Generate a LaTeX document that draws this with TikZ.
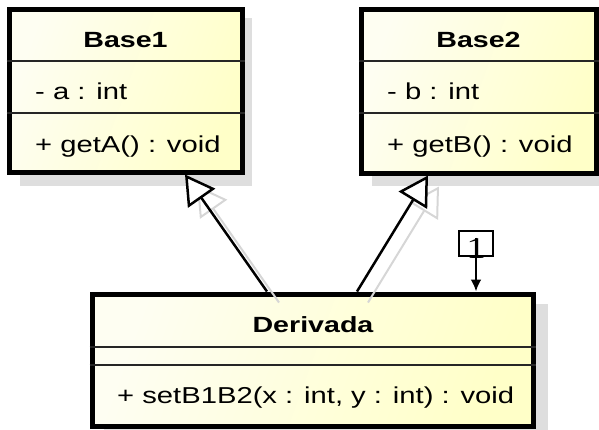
\documentclass[tikz,border=0pt]{standalone}
\usepackage{fontspec}
\setmainfont{Liberation Sans}
\newfontfamily\serifone{Liberation Serif}
\usetikzlibrary{arrows.meta,calc}
\definecolor{creamA}{RGB}{254,254,242}
\definecolor{creamC}{RGB}{255,255,200}
\definecolor{shadowgray}{RGB}{222,222,222}
\definecolor{arrowshadow}{RGB}{214,214,214}
\newcommand{\hsc}[1]{\scalebox{1.3}[1]{#1}}
\newcommand{\hsb}[1]{\scalebox{1.27}[1]{#1}}
\begin{document}
\begin{tikzpicture}[x=1pt,y=-1pt,
  umlbox/.style={rectangle, draw=black, line width=5pt, inner sep=0pt,
    left color=creamA, right color=creamC, shading angle=70},
  sepline/.style={draw=black!85, line width=2pt},
  titletext/.style={font=\fontsize{22}{26}\selectfont\bfseries, inner sep=0pt, anchor=base},
  bodytext/.style={font=\fontsize{23}{27}\selectfont, inner sep=0pt, anchor=base west},
  inherit/.style={draw=black, line width=2.5pt,
    -{Triangle[open, length=29pt, width=33pt, fill=white, line join=miter]}},
  inheritshadow/.style={draw=arrowshadow, line width=2pt,
    -{Triangle[open, length=29pt, width=33pt, fill=none]}},
  labelbox/.style={rectangle, draw=black, line width=2pt, inner sep=0pt},
  navarrow/.style={draw=black, line width=2.5pt, -{Latex[length=12pt, width=11pt]}}
]
\useasboundingbox (0,0) rectangle (599,429);

% box shadows
\fill[shadowgray] (20,18) rectangle (252,186);
\fill[shadowgray] (372,18) rectangle (606,186);
\fill[shadowgray] (104,304) rectangle (548,440);

% boxes
\node[umlbox, minimum width=233pt, minimum height=163pt] (base1) at (125.5,90.5) {};
\node[umlbox, minimum width=235pt, minimum height=164pt] (base2) at (478.5,91) {};
\node[umlbox, minimum width=441pt, minimum height=132pt] (der) at (312.5,360) {};

% compartment separators
\draw[sepline] (base1.west |- 0,61) -- (base1.east |- 0,61);
\draw[sepline] (base1.west |- 0,113) -- (base1.east |- 0,113);
\draw[sepline] (base2.west |- 0,61) -- (base2.east |- 0,61);
\draw[sepline] (base2.west |- 0,113) -- (base2.east |- 0,113);
\draw[sepline] (der.west |- 0,347) -- (der.east |- 0,347);
\draw[sepline] (der.west |- 0,365) -- (der.east |- 0,365);

% texts
\node[titletext] (t1) at (125.5,47) {\hsc{Base1}};
\node[bodytext] (a1) at (35,99) {\hsb{- a : int}};
\node[bodytext] (m1) at (35,152) {\hsb{+ getA() : void}};
\node[titletext] (t2) at (478.5,47) {\hsc{Base2}};
\node[bodytext] (a2) at (387,99) {\hsb{- b : int}};
\node[bodytext] (m2) at (387,152) {\hsb{+ getB() : void}};
\node[titletext] (t3) at (313,332) {\hsc{Derivada}};
\node[bodytext] (m3) at (117,403) {\hsb{+ setB1B2(x : int, y : int) : void}};

% connector end points
\coordinate (s1) at ($(der.north west)+(177.5,0)$);
\coordinate (e1) at ($(base1.south west)+(178.5,0)$);
\coordinate (s2) at ($(der.north west)+(267.5,0)$);
\coordinate (e2) at ($(base2.south west)+(69.5,0)$);

% arrow shadows
\draw[inheritshadow] ([shift={(12,11)}]s1) -- ([shift={(12,11)}]e1);
\draw[inheritshadow] ([shift={(11,11)}]s2) -- ([shift={(11,11)}]e2);

% generalisation arrows
\draw[inherit] (s1) -- (e1);
\draw[inherit] (s2) -- (e2);

% multiplicity label
\node[labelbox, minimum width=34pt, minimum height=25pt] (one) at (476,243.5) {};
\node[font=\serifone\fontsize{30}{30}\selectfont, inner sep=0pt, anchor=base] (onetxt) at (476,258) {\hsc{1}};
\coordinate (onetop) at ($(one.center)+(0,-6)$);
\draw[navarrow] (onetop) -- (onetop |- der.north);
\end{tikzpicture}
\end{document}
